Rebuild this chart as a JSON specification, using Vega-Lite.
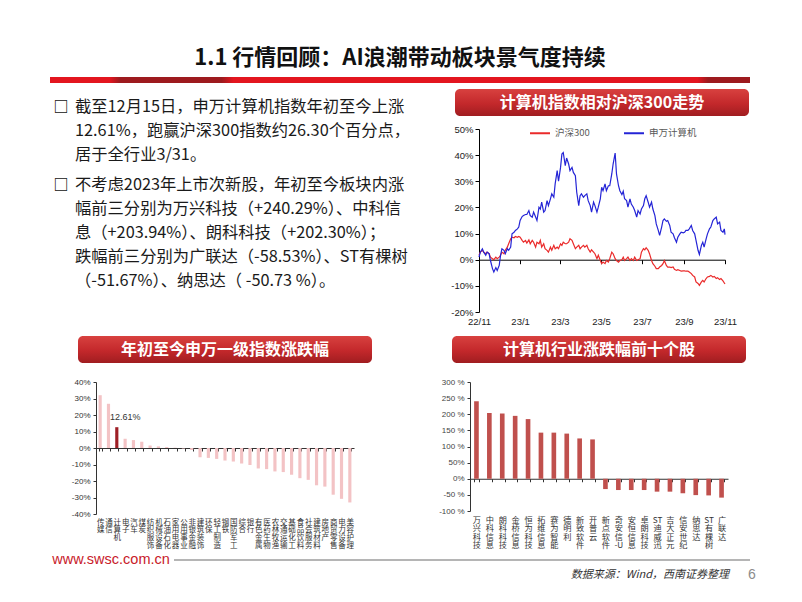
{
  "$schema": "https://vega.github.io/schema/vega-lite/v6.json",
  "background": "white",
  "padding": {"left": 50, "top": 42, "right": 0, "bottom": 0},
  "spacing": 6,
  "resolve": {"scale": {"color": "independent"}, "legend": {"color": "independent"}},
  "config": {
    "view": {"stroke": null},
    "font": "Noto Sans CJK SC",
    "axis": {"grid": false, "labelFont": "Liberation Sans", "titleFont": "Liberation Sans"},
    "legend": {"labelFont": "Noto Sans CJK SC"}
  },
  "vconcat": [
    {
      "bounds": "flush",
      "spacing": 0,
      "vconcat": [
        {
          "width": 700,
          "height": 35,
          "data": {"values": [{"title": "1.1 行情回顾：AI浪潮带动板块景气度持续"}]},
          "mark": {"type": "text", "fontSize": 22, "fontWeight": "bold", "color": "#111111", "dy": -2},
          "encoding": {"text": {"field": "title"}}
        },
        {
          "width": 700,
          "height": 6,
          "data": {"values": [{"part": "bar"}]},
          "mark": {
            "type": "rect",
            "fill": {
              "gradient": "linear", "x1": 0, "y1": 0, "x2": 1, "y2": 0,
              "stops": [
                {"offset": 0, "color": "#e3151f"},
                {"offset": 0.085, "color": "#e3151f"},
                {"offset": 0.1, "color": "#9d1a1e"},
                {"offset": 0.245, "color": "#9d1a1e"},
                {"offset": 0.262, "color": "#e3151f"},
                {"offset": 0.925, "color": "#e3151f"},
                {"offset": 0.94, "color": "#9d1a1e"},
                {"offset": 1, "color": "#9d1a1e"}
              ]
            }
          },
          "encoding": {}
        }
      ]
    },
    {
      "spacing": 10,
      "resolve": {"scale": {"color": "independent"}, "legend": {"color": "independent"}},
      "hconcat": [
        {
          "width": 390,
          "height": 241,
          "data": {"values": [
            {"line": 1, "para": 1, "first": true, "text": "截至12月15日，申万计算机指数年初至今上涨"},
            {"line": 2, "para": 1, "first": false, "text": "12.61%，跑赢沪深300指数约26.30个百分点，"},
            {"line": 3, "para": 1, "first": false, "text": "居于全行业3/31。"},
            {"line": 4, "para": 2, "first": true, "text": "不考虑2023年上市次新股，年初至今板块内涨"},
            {"line": 5, "para": 2, "first": false, "text": "幅前三分别为万兴科技（+240.29%）、中科信"},
            {"line": 6, "para": 2, "first": false, "text": "息（+203.94%）、朗科科技（+202.30%）；"},
            {"line": 7, "para": 2, "first": false, "text": "跌幅前三分别为广联达（-58.53%）、ST有棵树"},
            {"line": 8, "para": 2, "first": false, "text": "（-51.67%）、纳思达（ -50.73 %）。"}
          ]},
          "encoding": {
            "y": {"field": "line", "type": "ordinal", "axis": null,
                  "scale": {"type": "band", "paddingInner": 0, "paddingOuter": 1.1277, "align": 0.283}},
            "yOffset": {"field": "para", "type": "quantitative", "scale": {"domain": [1, 2], "range": [0, 5.5]}}
          },
          "layer": [
            {
              "mark": {"type": "text", "align": "left", "baseline": "middle", "dx": -170, "dy": 4.5, "fontSize": 16.3, "color": "#1a1a1a"},
              "encoding": {"text": {"field": "text"}}
            },
            {
              "transform": [{"filter": "datum.first"}],
              "mark": {"type": "text", "align": "center", "baseline": "middle", "dx": -184, "dy": 4.5, "fontSize": 15, "fontWeight": "bold", "color": "#111111"},
              "encoding": {"text": {"value": "□"}}
            }
          ]
        },
        {
          "bounds": "flush",
          "center": true,
          "spacing": 13,
          "resolve": {"scale": {"color": "independent"}, "legend": {"color": "independent"}},
          "vconcat": [
            {
              "width": 294,
              "height": 27,
              "data": {"values": [{"title": "计算机指数相对沪深300走势"}]},
              "layer": [
                {
                  "mark": {"type": "rect", "cornerRadius": 5,
                    "fill": {"gradient": "linear", "x1": 0, "y1": 0, "x2": 0, "y2": 1,
                      "stops": [{"offset": 0, "color": "#d8413f"}, {"offset": 0.55, "color": "#c3282b"}, {"offset": 1, "color": "#a01d20"}]}},
                  "encoding": {}
                },
                {
                  "mark": {"type": "text", "color": "white", "fontSize": 16, "fontWeight": "bold"},
                  "encoding": {"text": {"field": "title"}}
                }
              ]
            },
            {
              "width": 246,
              "height": 183,
              "data": {"values": [
{"d":"2022-11-01","沪深300":0.017,"申万计算机":0.010},
{"d":"2022-11-03","沪深300":0.029,"申万计算机":0.029},
{"d":"2022-11-06","沪深300":0.036,"申万计算机":0.042},
{"d":"2022-11-08","沪深300":0.029,"申万计算机":0.029},
{"d":"2022-11-11","沪深300":0.023,"申万计算机":0.017},
{"d":"2022-11-13","沪深300":0.029,"申万计算机":0.029},
{"d":"2022-11-16","沪深300":0.023,"申万计算机":0.023},
{"d":"2022-11-18","沪深300":0.010,"申万计算机":-0.003},
{"d":"2022-11-21","沪深300":0.004,"申万计算机":-0.034},
{"d":"2022-11-23","沪深300":0.000,"申万计算机":-0.047},
{"d":"2022-11-26","沪深300":0.010,"申万计算机":-0.030},
{"d":"2022-11-28","沪深300":0.004,"申万计算机":-0.041},
{"d":"2022-12-01","沪深300":0.010,"申万计算机":-0.022},
{"d":"2022-12-03","沪深300":0.017,"申万计算机":0.017},
{"d":"2022-12-05","沪深300":0.029,"申万计算机":0.042},
{"d":"2022-12-08","沪深300":0.023,"申万计算机":0.036},
{"d":"2022-12-10","沪深300":0.036,"申万计算机":0.023},
{"d":"2022-12-13","沪深300":0.048,"申万计算机":0.042},
{"d":"2022-12-15","沪深300":0.061,"申万计算机":0.036},
{"d":"2022-12-18","沪深300":0.080,"申万计算机":0.048},
{"d":"2022-12-20","沪深300":0.086,"申万计算机":0.099},
{"d":"2022-12-23","沪深300":0.084,"申万计算机":0.105},
{"d":"2022-12-25","沪深300":0.089,"申万计算机":0.112},
{"d":"2022-12-28","沪深300":0.086,"申万计算机":0.118},
{"d":"2022-12-30","沪深300":0.089,"申万计算机":0.125},
{"d":"2023-01-01","沪深300":0.086,"申万计算机":0.150},
{"d":"2023-01-04","沪深300":0.074,"申万计算机":0.165},
{"d":"2023-01-06","沪深300":0.067,"申万计算机":0.169},
{"d":"2023-01-09","沪深300":0.074,"申万计算机":0.173},
{"d":"2023-01-11","沪深300":0.064,"申万计算机":0.173},
{"d":"2023-01-14","沪深300":0.076,"申万计算机":0.188},
{"d":"2023-01-16","沪深300":0.061,"申万计算机":0.169},
{"d":"2023-01-19","沪深300":0.074,"申万计算机":0.163},
{"d":"2023-01-21","沪深300":0.067,"申万计算机":0.182},
{"d":"2023-01-24","沪深300":0.048,"申万计算机":0.163},
{"d":"2023-01-26","沪深300":0.067,"申万计算机":0.150},
{"d":"2023-01-29","沪深300":0.061,"申万计算机":0.201},
{"d":"2023-01-31","沪深300":0.074,"申万计算机":0.194},
{"d":"2023-02-02","沪深300":0.048,"申万计算机":0.220},
{"d":"2023-02-05","沪深300":0.061,"申万计算机":0.182},
{"d":"2023-02-07","沪深300":0.042,"申万计算机":0.188},
{"d":"2023-02-10","沪深300":0.036,"申万计算机":0.226},
{"d":"2023-02-12","沪深300":0.029,"申万计算机":0.207},
{"d":"2023-02-15","沪深300":0.048,"申万计算机":0.233},
{"d":"2023-02-17","沪深300":0.036,"申万计算机":0.252},
{"d":"2023-02-20","沪深300":0.055,"申万计算机":0.239},
{"d":"2023-02-22","沪深300":0.042,"申万计算机":0.290},
{"d":"2023-02-25","沪深300":0.048,"申万计算机":0.341},
{"d":"2023-02-27","沪深300":0.042,"申万计算机":0.300},
{"d":"2023-03-02","沪深300":0.061,"申万计算机":0.353},
{"d":"2023-03-04","沪深300":0.055,"申万计算机":0.404},
{"d":"2023-03-06","沪深300":0.067,"申万计算机":0.410},
{"d":"2023-03-09","沪深300":0.061,"申万计算机":0.360},
{"d":"2023-03-11","沪深300":0.061,"申万计算机":0.389},
{"d":"2023-03-14","沪深300":0.067,"申万计算机":0.366},
{"d":"2023-03-16","沪深300":0.080,"申万计算机":0.341},
{"d":"2023-03-19","沪深300":0.074,"申万计算机":0.353},
{"d":"2023-03-21","沪深300":0.061,"申万计算机":0.334},
{"d":"2023-03-24","沪深300":0.042,"申万计算机":0.321},
{"d":"2023-03-26","沪深300":0.048,"申万计算机":0.258},
{"d":"2023-03-29","沪深300":0.055,"申万计算机":0.207},
{"d":"2023-03-31","沪深300":0.042,"申万计算机":0.245},
{"d":"2023-04-02","沪深300":0.048,"申万计算机":0.252},
{"d":"2023-04-05","沪深300":0.055,"申万计算机":0.239},
{"d":"2023-04-07","沪深300":0.048,"申万计算机":0.245},
{"d":"2023-04-10","沪深300":0.055,"申万计算机":0.252},
{"d":"2023-04-12","沪深300":0.042,"申万计算机":0.226},
{"d":"2023-04-15","沪深300":0.029,"申万计算机":0.207},
{"d":"2023-04-17","沪深300":0.038,"申万计算机":0.182},
{"d":"2023-04-20","沪深300":0.029,"申万计算机":0.220},
{"d":"2023-04-22","沪深300":0.023,"申万计算机":0.207},
{"d":"2023-04-25","沪深300":0.004,"申万计算机":0.182},
{"d":"2023-04-27","沪深300":0.017,"申万计算机":0.201},
{"d":"2023-04-30","沪深300":-0.003,"申万计算机":0.233},
{"d":"2023-05-02","沪深300":-0.015,"申万计算机":0.277},
{"d":"2023-05-04","沪深300":-0.009,"申万计算机":0.264},
{"d":"2023-05-07","沪深300":-0.015,"申万计算机":0.290},
{"d":"2023-05-09","沪深300":-0.003,"申万计算机":0.264},
{"d":"2023-05-12","沪深300":-0.009,"申万计算机":0.283},
{"d":"2023-05-14","沪深300":0.004,"申万计算机":0.283},
{"d":"2023-05-17","沪深300":0.029,"申万计算机":0.328},
{"d":"2023-05-19","沪深300":0.023,"申万计算机":0.366},
{"d":"2023-05-22","沪深300":0.004,"申万计算机":0.408},
{"d":"2023-05-24","沪深300":-0.003,"申万计算机":0.328},
{"d":"2023-05-27","沪深300":-0.009,"申万计算机":0.283},
{"d":"2023-05-29","沪深300":-0.003,"申万计算机":0.264},
{"d":"2023-06-01","沪深300":0.000,"申万计算机":0.249},
{"d":"2023-06-03","沪深300":0.010,"申万计算机":0.262},
{"d":"2023-06-05","沪深300":-0.003,"申万计算机":0.233},
{"d":"2023-06-08","沪深300":0.004,"申万计算机":0.226},
{"d":"2023-06-10","沪深300":0.010,"申万计算机":0.201},
{"d":"2023-06-13","沪深300":-0.003,"申万计算机":0.233},
{"d":"2023-06-15","沪深300":0.004,"申万计算机":0.213},
{"d":"2023-06-18","沪深300":-0.003,"申万计算机":0.201},
{"d":"2023-06-20","沪深300":0.010,"申万计算机":0.188},
{"d":"2023-06-23","沪深300":-0.003,"申万计算机":0.163},
{"d":"2023-06-25","沪深300":0.000,"申万计算机":0.188},
{"d":"2023-06-28","沪深300":0.004,"申万计算机":0.175},
{"d":"2023-06-30","沪深300":0.029,"申万计算机":0.194},
{"d":"2023-07-03","沪深300":0.042,"申万计算机":0.207},
{"d":"2023-07-05","沪深300":0.038,"申万计算机":0.233},
{"d":"2023-07-07","沪深300":0.046,"申万计算机":0.245},
{"d":"2023-07-10","沪深300":0.036,"申万计算机":0.220},
{"d":"2023-07-12","沪深300":0.023,"申万计算机":0.201},
{"d":"2023-07-15","沪深300":-0.003,"申万计算机":0.220},
{"d":"2023-07-17","沪深300":-0.015,"申万计算机":0.194},
{"d":"2023-07-20","沪深300":-0.025,"申万计算机":0.169},
{"d":"2023-07-22","沪深300":-0.034,"申万计算机":0.137},
{"d":"2023-07-25","沪深300":-0.034,"申万计算机":0.112},
{"d":"2023-07-27","沪深300":-0.028,"申万计算机":0.093},
{"d":"2023-07-30","沪深300":-0.022,"申万计算机":0.125},
{"d":"2023-08-01","沪深300":-0.015,"申万计算机":0.150},
{"d":"2023-08-03","沪深300":-0.003,"申万计算机":0.156},
{"d":"2023-08-06","沪深300":-0.022,"申万计算机":0.147},
{"d":"2023-08-08","沪深300":-0.028,"申万计算机":0.150},
{"d":"2023-08-11","沪深300":-0.028,"申万计算机":0.131},
{"d":"2023-08-13","沪深300":-0.030,"申万计算机":0.105},
{"d":"2023-08-16","沪深300":-0.028,"申万计算机":0.099},
{"d":"2023-08-18","沪深300":-0.037,"申万计算机":0.084},
{"d":"2023-08-21","沪深300":-0.041,"申万计算机":0.067},
{"d":"2023-08-23","沪深300":-0.038,"申万计算机":0.086},
{"d":"2023-08-26","沪深300":-0.041,"申万计算机":0.099},
{"d":"2023-08-28","沪深300":-0.044,"申万计算机":0.105},
{"d":"2023-08-31","沪深300":-0.043,"申万计算机":0.103},
{"d":"2023-09-02","沪深300":-0.043,"申万计算机":0.105},
{"d":"2023-09-04","沪深300":-0.044,"申万计算机":0.112},
{"d":"2023-09-07","沪深300":-0.044,"申万计算机":0.112},
{"d":"2023-09-09","沪深300":-0.047,"申万计算机":0.118},
{"d":"2023-09-12","沪深300":-0.053,"申万计算机":0.131},
{"d":"2023-09-14","沪深300":-0.060,"申万计算机":0.112},
{"d":"2023-09-17","沪深300":-0.066,"申万计算机":0.099},
{"d":"2023-09-19","沪深300":-0.085,"申万计算机":0.074},
{"d":"2023-09-22","沪深300":-0.091,"申万计算机":0.036},
{"d":"2023-09-24","沪深300":-0.098,"申万计算机":0.020},
{"d":"2023-09-27","沪深300":-0.085,"申万计算机":0.055},
{"d":"2023-09-29","沪深300":-0.079,"申万计算机":0.067},
{"d":"2023-10-01","沪深300":-0.085,"申万计算机":0.048},
{"d":"2023-10-04","沪深300":-0.072,"申万计算机":0.080},
{"d":"2023-10-06","沪深300":-0.066,"申万计算机":0.099},
{"d":"2023-10-09","沪深300":-0.064,"申万计算机":0.118},
{"d":"2023-10-11","沪深300":-0.060,"申万计算机":0.125},
{"d":"2023-10-14","沪深300":-0.066,"申万计算机":0.150},
{"d":"2023-10-16","沪深300":-0.064,"申万计算机":0.156},
{"d":"2023-10-19","沪深300":-0.072,"申万计算机":0.163},
{"d":"2023-10-21","沪深300":-0.069,"申万计算机":0.137},
{"d":"2023-10-24","沪深300":-0.076,"申万计算机":0.144},
{"d":"2023-10-26","沪深300":-0.072,"申万计算机":0.112},
{"d":"2023-10-29","沪深300":-0.081,"申万计算机":0.105},
{"d":"2023-10-31","沪深300":-0.089,"申万计算机":0.118},
{"d":"2023-11-01","沪深300":-0.093,"申万计算机":0.096}
              ]},
              "transform": [{"fold": ["沪深300", "申万计算机"], "as": ["series", "value"]}],
              "mark": {"type": "line", "strokeWidth": 1.2},
              "encoding": {
                "x": {
                  "field": "d", "type": "temporal",
                  "scale": {"type": "utc", "nice": false,
                    "domain": [{"year": 2022, "month": 11, "date": 1, "utc": true}, {"year": 2023, "month": 11, "date": 1, "utc": true}]},
                  "axis": {"title": null, "offset": -52.3, "format": "%y/%-m", "tickCount": {"interval": "month", "step": 2},
                    "domainColor": "#000000", "tickColor": "#000000", "tickSize": 4, "labelPadding": 52.5,
                    "labelFontSize": 9.5, "labelColor": "#222222", "labelFlush": false, "labelOverlap": false}
                },
                "y": {
                  "field": "value", "type": "quantitative",
                  "scale": {"domain": [-0.2, 0.5], "nice": false, "zero": false},
                  "axis": {"title": null, "values": [-0.2, -0.1, 0, 0.1, 0.2, 0.3, 0.4, 0.5],
                    "labelExpr": "round(datum.value * 100) + '%'",
                    "domainColor": "#000000", "tickColor": "#000000", "tickSize": 4, "labelPadding": 2,
                    "labelFontSize": 9.5, "labelColor": "#222222"}
                },
                "color": {
                  "field": "series", "type": "nominal",
                  "scale": {"domain": ["沪深300", "申万计算机"], "range": ["#ea2a2a", "#2424d6"]},
                  "legend": {"title": null, "orient": "none", "legendX": 50, "legendY": -7, "direction": "horizontal",
                    "symbolType": "stroke", "symbolSize": 400, "symbolStrokeWidth": 2,
                    "labelFontSize": 9.5, "labelColor": "#595959", "labelOffset": 4, "columnPadding": 30}
                }
              }
            }
          ]
        }
      ]
    },
    {
      "spacing": 1,
      "vconcat": [
        {
          "spacing": 38,
          "hconcat": [
            {
              "bounds": "flush",
              "center": true,
              "spacing": 19,
              "vconcat": [
                {
                  "width": 294,
                  "height": 27,
                  "data": {"values": [{"title": "年初至今申万一级指数涨跌幅"}]},
                  "layer": [
                    {
                      "mark": {"type": "rect", "cornerRadius": 5,
                        "fill": {"gradient": "linear", "x1": 0, "y1": 0, "x2": 0, "y2": 1,
                          "stops": [{"offset": 0, "color": "#d8413f"}, {"offset": 0.55, "color": "#c3282b"}, {"offset": 1, "color": "#a01d20"}]}},
                      "encoding": {}
                    },
                    {
                      "mark": {"type": "text", "color": "white", "fontSize": 16, "fontWeight": "bold"},
                      "encoding": {"text": {"field": "title"}}
                    }
                  ]
                },
                {
                  "width": 258,
                  "height": 132,
                  "data": {"values": [
                    {"name": "传媒", "value": 0.320},
                    {"name": "通信", "value": 0.268},
                    {"name": "计算机", "value": 0.1261},
                    {"name": "电子", "value": 0.056},
                    {"name": "汽车", "value": 0.048},
                    {"name": "煤炭", "value": 0.038},
                    {"name": "纺织服饰", "value": 0.015},
                    {"name": "机械设备", "value": 0.010},
                    {"name": "石油石化", "value": 0.006},
                    {"name": "家用电器", "value": 0.002},
                    {"name": "公用事业", "value": -0.003},
                    {"name": "非银金融", "value": -0.012},
                    {"name": "建筑装饰", "value": -0.056},
                    {"name": "环保", "value": -0.060},
                    {"name": "轻工制造", "value": -0.066},
                    {"name": "钢铁", "value": -0.076},
                    {"name": "国防军工", "value": -0.082},
                    {"name": "综合", "value": -0.094},
                    {"name": "银行", "value": -0.103},
                    {"name": "有色金属", "value": -0.124},
                    {"name": "医药生物", "value": -0.128},
                    {"name": "农林牧渔", "value": -0.142},
                    {"name": "交通运输", "value": -0.146},
                    {"name": "基础化工", "value": -0.162},
                    {"name": "食品饮料", "value": -0.183},
                    {"name": "社会服务", "value": -0.193},
                    {"name": "建筑材料", "value": -0.226},
                    {"name": "房地产", "value": -0.234},
                    {"name": "商贸零售", "value": -0.283},
                    {"name": "电力设备", "value": -0.308},
                    {"name": "美容护理", "value": -0.330}
                  ]},
                  "encoding": {
                    "x": {
                      "field": "name", "type": "nominal", "sort": null,
                      "scale": {"paddingInner": 0.62, "paddingOuter": 0.31},
                      "axis": {"title": null, "offset": -66, "domainColor": "#333333", "tickColor": "#333333",
                        "tickSize": 3, "tickBand": "extent", "labelPadding": 67, "labelAngle": 0,
                        "labelExpr": "split(datum.label, '')", "labelFont": "Noto Sans CJK SC",
                        "labelFontSize": 7.5, "labelLineHeight": 7.7, "labelColor": "#333333", "labelOverlap": false}
                    },
                    "y": {
                      "field": "value", "type": "quantitative",
                      "scale": {"domain": [-0.4, 0.4], "nice": false},
                      "axis": {"title": null, "values": [-0.4, -0.3, -0.2, -0.1, 0, 0.1, 0.2, 0.3, 0.4],
                        "labelExpr": "round(datum.value * 100) + '%'",
                        "domainColor": "#333333", "tickColor": "#333333", "tickSize": 3, "labelPadding": 3,
                        "labelFontSize": 8, "labelColor": "#333333"}
                    }
                  },
                  "layer": [
                    {
                      "mark": {"type": "bar"},
                      "encoding": {
                        "color": {"condition": {"test": "datum.name === '计算机'", "value": "#9e1f26"}, "value": "#f3c3c5"}
                      }
                    },
                    {
                      "transform": [{"filter": "datum.name === '计算机'"}],
                      "mark": {"type": "text", "dx": 8.4, "dy": -10, "fontSize": 9, "font": "Liberation Sans", "color": "#333333"},
                      "encoding": {"text": {"field": "value", "format": ".2%"}}
                    }
                  ]
                },
                {
                  "width": 350,
                  "height": 18,
                  "data": {"values": [{}]},
                  "mark": {"type": "rect", "opacity": 0},
                  "encoding": {}
                }
              ]
            },
            {
              "bounds": "flush",
              "center": true,
              "spacing": 19,
              "vconcat": [
                {
                  "width": 294,
                  "height": 27,
                  "data": {"values": [{"title": "计算机行业涨跌幅前十个股"}]},
                  "layer": [
                    {
                      "mark": {"type": "rect", "cornerRadius": 5,
                        "fill": {"gradient": "linear", "x1": 0, "y1": 0, "x2": 0, "y2": 1,
                          "stops": [{"offset": 0, "color": "#d8413f"}, {"offset": 0.55, "color": "#c3282b"}, {"offset": 1, "color": "#a01d20"}]}},
                      "encoding": {}
                    },
                    {
                      "mark": {"type": "text", "color": "white", "fontSize": 16, "fontWeight": "bold"},
                      "encoding": {"text": {"field": "title"}}
                    }
                  ]
                },
                {
                  "width": 258,
                  "height": 129,
                  "data": {"values": [
                    {"name": "万兴科技", "value": 2.4029},
                    {"name": "中科信息", "value": 2.0394},
                    {"name": "朗科科技", "value": 2.0230},
                    {"name": "金桥信息", "value": 1.95},
                    {"name": "恒为科技", "value": 1.85},
                    {"name": "拓维信息", "value": 1.43},
                    {"name": "赛为智能", "value": 1.43},
                    {"name": "德明利", "value": 1.40},
                    {"name": "新致软件", "value": 1.25},
                    {"name": "开普云", "value": 1.22},
                    {"name": "新点软件", "value": -0.32},
                    {"name": "奇安信-U", "value": -0.35},
                    {"name": "安恒信息", "value": -0.35},
                    {"name": "卓朗科技", "value": -0.35},
                    {"name": "ST迪威迅", "value": -0.40},
                    {"name": "吉大正元", "value": -0.40},
                    {"name": "信安世纪", "value": -0.45},
                    {"name": "纳思达", "value": -0.5073},
                    {"name": "ST有棵树", "value": -0.5167},
                    {"name": "广联达", "value": -0.5853}
                  ]},
                  "mark": {"type": "bar", "color": "#c0504d"},
                  "encoding": {
                    "x": {
                      "field": "name", "type": "nominal", "sort": null,
                      "scale": {"paddingInner": 0.64, "paddingOuter": 0.32},
                      "axis": {"title": null, "offset": -32.25, "domainColor": "#333333", "tickColor": "#333333",
                        "tickSize": 3, "tickBand": "extent", "labelPadding": 34.5, "labelAngle": 0,
                        "labelExpr": "split(replace(replace(datum.label, regexp('([^A-Z])', 'g'), '#$1'), regexp('^#'), ''), '#')",
                        "labelFont": "Noto Sans CJK SC", "labelFontSize": 8.2, "labelLineHeight": 8.4,
                        "labelColor": "#333333", "labelOverlap": false}
                    },
                    "y": {
                      "field": "value", "type": "quantitative",
                      "scale": {"domain": [-1, 3], "nice": false},
                      "axis": {"title": null, "values": [-1, -0.5, 0, 0.5, 1, 1.5, 2, 2.5, 3],
                        "labelExpr": "round(datum.value * 100) + ((datum.value == 0 || datum.value == 0.5) ? '%' : ' %')",
                        "domainColor": "#333333", "tickColor": "#333333", "tickSize": 3, "labelPadding": 3,
                        "labelFontSize": 8, "labelColor": "#444444"}
                    }
                  }
                }
              ]
            }
          ]
        },
        {
          "bounds": "flush",
          "spacing": 2,
          "hconcat": [
            {
              "width": 122,
              "height": 16,
              "data": {"values": [{"site": "www.swsc.com.cn"}]},
              "mark": {"type": "text", "baseline": "middle", "font": "Liberation Sans", "fontSize": 14.5, "color": "#c8202a"},
              "encoding": {"text": {"field": "site"}}
            },
            {
              "width": 576,
              "height": 16,
              "layer": [
                {
                  "data": {"values": [{"part": "rule"}]},
                  "mark": {"type": "rect",
                    "fill": {"gradient": "linear", "x1": 0, "y1": 0, "x2": 0, "y2": 1,
                      "stops": [
                        {"offset": 0, "color": "rgba(255,255,255,0)"},
                        {"offset": 0.44, "color": "rgba(255,255,255,0)"},
                        {"offset": 0.44, "color": "#b5b5b5"},
                        {"offset": 0.56, "color": "#b5b5b5"},
                        {"offset": 0.56, "color": "rgba(255,255,255,0)"},
                        {"offset": 1, "color": "rgba(255,255,255,0)"}
                      ]}},
                  "encoding": {}
                },
                {
                  "data": {"values": [{"source": "数据来源：Wind，西南证券整理"}]},
                  "mark": {"type": "text", "align": "right", "baseline": "middle", "dx": 267, "dy": 15, "fontSize": 11, "fontStyle": "italic", "color": "#333333"},
                  "encoding": {"text": {"field": "source"}}
                },
                {
                  "data": {"values": [{"page": "6"}]},
                  "mark": {"type": "text", "baseline": "middle", "dx": 290, "dy": 15, "fontSize": 14, "font": "Liberation Sans", "color": "#8c8c8c"},
                  "encoding": {"text": {"field": "page"}}
                }
              ]
            }
          ]
        }
      ]
    }
  ]
}
